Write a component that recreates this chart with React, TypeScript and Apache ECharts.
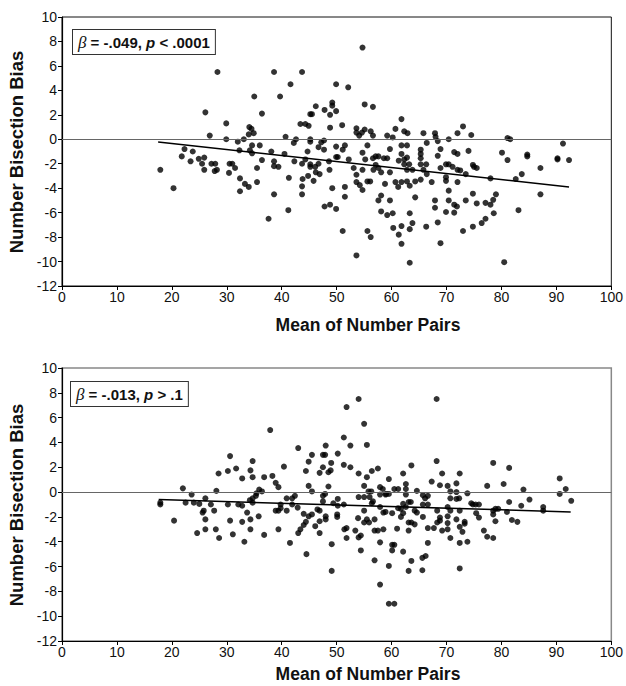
import React, { useEffect, useRef } from 'react';
import * as echarts from 'echarts';

const xTitle = 'Mean of Number Pairs';
const yTitle = 'Number Bisection Bias';
const topStat = { beta: '-.049', op: '<', p: '.0001' };
const bottomStat = { beta: '-.013', op: '>', p: '.1' };

const topFitX = [17.5, 92.3];
const topFitY = [-0.22, -3.9];
const bottomFitX = [17.6, 92.6];
const bottomFitY = [-0.6, -1.6];

const topPoints: number[][] = [
  [17.9,-2.5],[20.3,-4.0],[21.8,-1.4],[22.3,-0.8],[23.8,-1.0],[23.4,-1.8],[24.9,-1.6],[25.5,-2.0],[25.9,-1.5],[25.9,-2.5],[26.1,2.2],
  [28.3,5.5],[38.6,5.5],[43.7,5.5],[41.6,4.5],[49.9,4.5],[35.0,3.5],[39.7,3.5],[36.4,2.1],[29.9,1.3],[46.2,2.7],[49.2,3.0],[49.2,2.75],[47.8,2.4],[48.8,2.0],[49.9,2.3],[45.2,2.05],[45.5,2.05],[43.4,1.25],[44.3,1.25],[44.9,1.1],[48.8,0.95],[34.1,1.0],[34.5,0.85],[34.9,0.5],[34.0,0.4],[26.9,0.3],[29.9,0.0],[32.0,-0.2],[33.1,0.0],[40.7,0.2],[42.6,0.0],[42.2,-0.3],[45.2,0.0],[45.2,-0.2],[47.2,-0.25],[47.7,-0.1],[46.7,-0.65],[47.7,-0.85],[49.9,-0.6],[34.6,-0.5],[36.0,-0.5],[32.3,-0.9],[34.2,-0.9],[34.6,-1.15],[38.1,-1.0],[40.5,-1.2],[44.7,-1.0],[27.2,-2.0],[27.9,-2.0],[28.2,-2.5],[27.8,-2.6],[30.5,-2.0],[31.0,-2.0],[30.4,-2.75],[31.5,-2.35],[36.4,-1.7],[35.5,-2.35],[38.6,-1.8],[38.6,-2.2],[39.4,-2.25],[42.3,-1.8],[44.3,-1.65],[43.7,-2.0],[45.2,-2.05],[45.2,-2.25],[46.1,-2.25],[46.7,-2.0],[46.2,-2.7],[46.9,-2.85],[48.6,-1.8],[48.7,-2.5],[49.9,-1.45],[50.2,-1.45],[41.3,-3.15],[43.8,-3.25],[44.8,-3.0],[45.8,-3.4],[32.4,-3.2],[33.3,-3.65],[34.0,-3.9],[32.4,-4.25],[35.5,-3.5],[43.7,-3.85],[38.6,-4.5],[43.7,-4.5],[49.2,-4.0],[47.8,-5.5],[48.8,-5.35],[49.9,-5.7],[41.2,-5.8],[37.6,-6.5],
  [54.7,7.5],[52.1,4.25],[55.1,2.85],[56.6,2.65],[51.0,1.15],[53.6,0.9],[53.6,0.55],[54.1,0.3],[54.6,0.55],[55.1,0.8],[56.2,0.65],[56.6,0.3],[59.2,0.3],[60.2,0.15],[60.7,0.85],[61.8,1.65],[62.3,0.65],[62.9,0.5],[65.8,0.5],[67.9,0.5],[68.0,0.2],[68.4,-0.15],[70.4,0.0],[72.0,0.5],[73.0,1.05],[74.5,0.35],[51.1,-0.85],[51.5,-0.5],[52.2,-1.65],[54.7,-1.1],[55.6,-0.5],[55.2,-1.65],[54.7,-2.5],[53.1,-2.35],[53.6,-2.9],[53.6,-3.5],[54.2,-3.75],[54.7,-4.15],[55.6,-3.45],[56.1,-3.45],[56.6,-1.55],[57.1,-1.4],[57.6,-1.4],[57.1,-2.1],[57.6,-2.35],[58.1,-2.7],[56.7,-2.5],[58.6,-1.55],[59.2,-1.55],[59.7,-0.8],[59.7,-2.7],[58.8,-3.65],[57.6,-5.0],[58.1,-4.6],[59.7,-5.0],[58.1,-5.9],[59.2,-6.2],[60.2,-6.05],[60.7,-3.5],[61.2,-3.9],[61.8,-3.5],[61.3,-1.75],[61.8,-1.2],[61.8,-0.5],[62.8,-0.5],[62.3,-1.65],[62.8,-1.5],[62.3,-2.05],[63.2,-2.05],[62.8,-2.5],[63.8,-2.5],[62.8,-3.45],[63.3,-3.8],[64.3,-3.45],[64.3,-4.75],[63.3,-6.05],[63.8,-6.85],[63.3,-7.35],[61.8,-7.1],[60.3,-7.25],[61.3,-7.8],[61.8,-8.55],[63.3,-10.1],[53.6,-9.5],[51.1,-7.5],[55.6,-7.5],[56.2,-8.0],[51.5,-3.9],[51.5,-4.7],[65.3,-0.85],[65.3,-1.2],[65.3,-1.55],[65.3,-2.05],[65.8,-2.5],[66.3,-2.05],[66.4,-0.3],[66.4,-2.85],[65.3,-3.3],[66.3,-7.15],[67.3,-3.5],[68.4,-1.35],[68.9,-0.8],[68.9,-2.35],[69.9,-2.05],[70.4,-2.05],[69.9,-3.1],[69.9,-3.4],[70.4,-4.2],[70.4,-5.0],[67.9,-5.0],[67.9,-5.6],[68.4,-6.8],[68.9,-8.5],[69.9,-5.95],[71.4,-5.35],[71.9,-5.5],[71.4,-6.0],[71.1,-2.25],[71.4,-1.05],[72.0,-1.2],[72.0,-2.5],[72.5,-2.55],[72.0,-3.5],[73.5,-2.85],[73.5,-5.0],[74.0,-0.95],[73.0,-7.5],[74.8,-4.45],[74.8,-7.15],[74.8,-2.1],
  [75.0,-2.25],[75.5,-2.35],[75.5,-5.25],[76.4,-6.85],[77.1,-6.5],[77.1,-5.2],[78.0,-5.35],[78.0,-3.2],[78.5,-4.95],[79.0,-4.5],[78.6,-6.05],[80.1,-1.1],[80.5,-10.05],[81.1,0.1],[81.6,0.0],[81.1,-1.7],[82.6,-3.25],[83.1,-5.8],[83.7,-2.85],[84.7,-1.25],[84.7,-1.4],[87.1,-2.35],[87.1,-4.5],[90.2,-1.55],[90.2,-1.65],[91.2,-0.35],[92.3,-1.7]
];

const bottomPoints: number[][] = [
  [17.9,-0.85],[17.9,-1.0],[20.4,-2.3],[22.0,0.3],[23.6,-0.2],[22.5,-0.85],[24.0,-0.85],[25.0,-0.95],[26.1,-0.5],[25.6,-1.65],[25.8,-1.5],[26.1,-2.2],[24.6,-3.3],[26.1,-3.0],
  [37.9,5.0],[30.6,2.9],[28.5,1.5],[30.2,1.7],[31.7,1.9],[32.8,1.1],[34.3,1.75],[34.7,2.5],[34.7,1.2],[36.8,1.2],[38.3,1.3],[38.9,0.75],[39.4,0.4],[40.4,2.05],[43.0,3.55],[45.5,3.0],[44.9,2.45],[48.0,3.75],[47.5,3.0],[47.9,3.0],[50.2,3.1],[47.5,2.0],[46.9,1.55],[44.4,1.7],[48.5,1.6],[48.9,1.75],[49.0,2.35],[48.5,0.45],[44.9,0.5],[45.5,0.05],[28.1,0.1],[35.4,-0.1],[35.9,0.2],[36.4,0.05],[35.3,-0.3],[34.7,-0.5],[34.2,-0.65],[34.7,-0.85],[42.4,-0.3],[41.9,-0.5],[40.9,-0.5],[47.5,-0.3],[47.9,-0.15],[47.5,-0.75],[50.2,-0.55],[49.4,-0.9],[50.2,-1.1],[27.1,-1.0],[27.7,-1.5],[30.2,-1.0],[32.1,-1.0],[32.8,-1.1],[33.7,-1.65],[39.8,-1.0],[39.8,-1.3],[38.9,-1.5],[39.4,-1.5],[40.9,-1.5],[41.9,-1.0],[42.9,-1.25],[44.0,-1.75],[44.9,-1.95],[45.5,-1.8],[46.5,-1.4],[46.9,-1.5],[48.0,-1.95],[48.0,-2.2],[50.1,-1.8],[50.1,-2.0],[30.6,-2.3],[32.8,-2.4],[34.3,-2.2],[35.8,-1.95],[34.3,-3.0],[28.0,-3.0],[28.6,-3.7],[31.1,-3.4],[33.2,-4.0],[36.8,-3.45],[39.4,-3.0],[44.4,-2.4],[44.0,-2.65],[43.4,-3.0],[43.0,-3.3],[41.5,-4.1],[46.1,-2.75],[46.9,-2.35],[46.9,-3.3],[44.5,-5.0],[49.1,-4.2],[49.1,-6.35],
  [54.0,7.5],[51.8,6.85],[55.0,5.5],[51.3,4.4],[52.5,3.75],[55.5,3.8],[68.2,7.5],[68.2,2.5],[51.3,2.2],[52.5,2.0],[54.0,1.5],[55.5,1.2],[56.4,1.7],[57.5,1.9],[55.0,0.5],[59.5,1.05],[57.9,0.4],[58.4,0.25],[60.5,0.25],[61.2,0.25],[62.1,1.5],[62.6,0.65],[62.6,0.25],[63.6,2.15],[64.6,0.1],[67.3,0.85],[68.8,0.55],[69.2,1.5],[70.2,0.5],[71.8,0.7],[72.4,1.5],[73.8,-0.1],[54.0,-0.4],[55.0,-0.4],[55.8,0.05],[56.3,0.05],[56.0,-0.4],[56.6,-0.75],[56.4,-0.9],[57.9,-0.2],[58.9,-0.2],[59.5,-0.15],[59.0,-0.15],[57.9,-1.2],[58.5,-1.65],[58.9,-1.6],[60.1,-1.7],[61.2,-1.3],[62.1,-0.95],[61.7,-1.35],[62.1,-1.7],[61.7,-2.0],[62.6,-1.2],[63.1,-0.8],[63.5,-0.8],[62.6,-0.2],[64.2,-1.5],[64.6,-1.65],[65.7,-0.25],[66.1,-0.5],[66.6,-0.3],[65.7,-1.0],[66.6,-1.0],[65.7,-2.0],[68.3,-1.5],[68.8,-2.05],[68.3,-2.45],[68.8,-2.3],[69.2,-3.1],[70.2,-1.2],[70.7,-1.5],[70.2,-1.95],[70.7,0.05],[70.7,-0.5],[71.8,-0.55],[72.3,-0.5],[71.8,0.0],[72.4,-1.5],[70.2,-2.5],[70.2,-3.0],[71.8,-2.2],[70.7,-3.7],[72.4,-2.8],[72.9,-3.2],[73.3,-2.55],[73.3,-2.4],[72.4,-4.1],[72.4,-6.15],[73.8,-4.0],[74.5,-0.9],[74.8,-1.0],[51.3,-1.0],[51.4,-3.0],[51.8,-2.9],[51.8,-3.7],[53.4,-3.1],[54.0,-3.65],[54.4,-3.5],[53.9,-2.1],[55.0,-1.5],[55.5,-2.2],[55.0,-2.45],[55.9,-2.45],[56.9,-2.2],[56.9,-3.1],[57.5,-3.1],[58.5,-3.0],[57.9,-4.05],[54.4,-4.7],[60.1,-4.25],[60.5,-4.25],[60.1,-4.7],[61.0,-2.95],[62.1,-4.8],[63.1,-3.1],[63.1,-2.45],[63.6,-2.45],[64.2,-2.6],[66.6,-2.9],[67.7,-2.9],[66.6,-4.1],[66.2,-5.15],[65.6,-5.3],[63.6,-5.55],[63.1,-6.35],[65.6,-6.3],[56.9,-5.5],[59.5,-5.95],[57.9,-7.45],[59.5,-9.0],[60.5,-9.0],
  [78.5,2.35],[81.4,1.95],[90.6,1.1],[77.4,0.5],[80.4,0.65],[84.0,0.2],[91.7,0.25],[90.6,-0.15],[92.7,-0.7],[85.1,-0.6],[81.4,-0.8],[83.6,-1.1],[87.6,-1.2],[87.6,-1.5],[75.3,-1.0],[75.9,-1.0],[75.4,-1.7],[75.9,-2.05],[78.5,-1.5],[78.9,-1.35],[79.4,-1.35],[78.5,-1.8],[81.0,-1.6],[78.9,-2.35],[81.9,-2.25],[82.9,-2.4],[76.8,-3.1],[77.4,-3.6],[78.5,-3.7]
];

const FONT = '"Liberation Sans", Arial, Helvetica, sans-serif';

export default function App() {
  const ref = useRef<HTMLDivElement>(null);
  useEffect(() => {
    document.body.style.margin = '0';
    const chart = echarts.init(ref.current!, null, { renderer: 'svg' });
    const grids = [
      { left: 62, top: 17, width: 552, height: 269, show: true, borderColor: '#111', borderWidth: 1, backgroundColor: '#fff' },
      { left: 62, top: 368, width: 552, height: 273, show: true, borderColor: '#888', borderWidth: 1.5, backgroundColor: '#fff' }
    ];
    const xAxis = [0, 1].map((g) => ({
      type: 'value', gridIndex: g, min: 0, max: 100, interval: 10,
      axisLine: { show: true, onZero: false, lineStyle: { color: '#000', width: 1.2 } },
      axisTick: { show: true, length: 4, lineStyle: { color: '#000' } },
      axisLabel: { color: '#111', fontSize: 14, fontFamily: FONT, margin: 4 },
      splitLine: { show: false }
    }));
    const yAxis = [0, 1].map((g) => ({
      type: 'value', gridIndex: g, min: -12, max: 10, interval: 2,
      axisLine: { show: true, onZero: false, lineStyle: { color: '#000', width: 1.2 } },
      axisTick: { show: true, length: 4, lineStyle: { color: '#000' } },
      axisLabel: { color: '#111', fontSize: 14, fontFamily: FONT, margin: 5 },
      splitLine: { show: false }
    }));
    const zeroLine = {
      silent: true, symbol: 'none', animation: false,
      label: { show: false },
      lineStyle: { color: '#666', type: 'solid', width: 1.2 },
      data: [{ yAxis: 0 }]
    };
    const fit = (xs: number[], ys: number[]) => xs.map((x, i) => [x, ys[i]]);
    const statText = (s: { beta: string; op: string; p: string }) =>
      `{b|β}{n| = ${s.beta}, }{p|p}{n| ${s.op} ${s.p}}`;
    const statRich = {
      b: { fontFamily: '"Liberation Serif", "DejaVu Serif", serif', fontStyle: 'italic', fontSize: 17, fill: '#111', fontWeight: 'normal' },
      n: { fontFamily: FONT, fontWeight: 'bold', fontSize: 15, fill: '#111' },
      p: { fontFamily: FONT, fontWeight: 'bold', fontStyle: 'italic', fontSize: 15, fill: '#111' }
    };
    const option: any = {
      animation: false,
      backgroundColor: '#fff',
      grid: grids,
      xAxis,
      yAxis,
      series: [
        { type: 'scatter', xAxisIndex: 0, yAxisIndex: 0, data: topPoints, symbolSize: 6, itemStyle: { color: '#000' }, markLine: zeroLine, z: 3 },
        { type: 'line', xAxisIndex: 0, yAxisIndex: 0, data: fit(topFitX, topFitY), showSymbol: false, symbol: 'none', lineStyle: { color: '#000', width: 1.5 }, z: 4 },
        { type: 'scatter', xAxisIndex: 1, yAxisIndex: 1, data: bottomPoints, symbolSize: 6, itemStyle: { color: '#000' }, markLine: zeroLine, z: 3 },
        { type: 'line', xAxisIndex: 1, yAxisIndex: 1, data: fit(bottomFitX, bottomFitY), showSymbol: false, symbol: 'none', lineStyle: { color: '#000', width: 1.5 }, z: 4 }
      ],
      graphic: [
        { type: 'text', left: 72, top: 29, z: 10, style: { text: statText(topStat), rich: statRich, backgroundColor: '#fff', borderColor: '#333', borderWidth: 1, padding: [4, 5, 3, 5] } },
        { type: 'text', left: 70, top: 381, z: 10, style: { text: statText(bottomStat), rich: statRich, backgroundColor: '#fff', borderColor: '#333', borderWidth: 1, padding: [4, 5, 3, 5] } },
        { type: 'text', x: 368, y: 325, style: { text: xTitle, font: `bold 17.5px ${FONT}`, fill: '#111', textAlign: 'center', textVerticalAlign: 'middle' } },
        { type: 'text', x: 368, y: 674, style: { text: xTitle, font: `bold 17.5px ${FONT}`, fill: '#111', textAlign: 'center', textVerticalAlign: 'middle' } },
        { type: 'text', x: 16, y: 152, rotation: Math.PI / 2, style: { text: yTitle, font: `bold 18.5px ${FONT}`, fill: '#111', textAlign: 'center', textVerticalAlign: 'middle' } },
        { type: 'text', x: 16, y: 505, rotation: Math.PI / 2, style: { text: yTitle, font: `bold 18.5px ${FONT}`, fill: '#111', textAlign: 'center', textVerticalAlign: 'middle' } }
      ]
    };
    chart.setOption(option);
    return () => chart.dispose();
  }, []);
  return <div ref={ref} style={{ position: 'absolute', left: 0, top: 0, width: 626, height: 686 }} />;
}
